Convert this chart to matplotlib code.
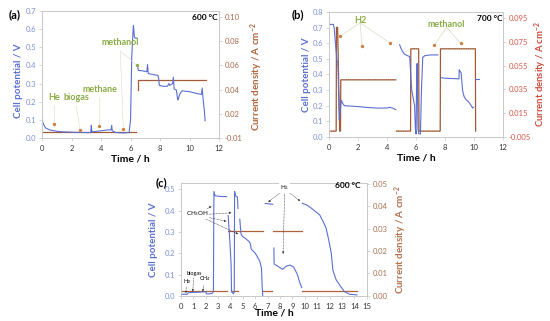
import numpy as np
import matplotlib
matplotlib.use("Agg")
from matplotlib import pyplot as plt

# ---- panel (a): 600 C ----
a_time_1 = [0, 0.1, 0.25, 0.5, 0.8, 1.2, 2.0, 3.0, 3.3, 3.34, 3.38, 3.5, 4.0, 4.5, 4.68, 4.72, 4.76, 5.0, 5.5, 5.9, 6.0, 6.08, 6.19, 6.22, 6.25, 6.3, 6.45]
a_volt_1 = [0.1, 0.075, 0.055, 0.045, 0.04, 0.035, 0.032, 0.03, 0.03, 0.07, 0.035, 0.035, 0.04, 0.045, 0.045, 0.068, 0.04, 0.03, 0.028, 0.03, 0.1, 0.45, 0.62, 0.6, 0.56, 0.55, 0.55]
a_time_2 = [6.47, 6.53, 6.8, 7.1, 7.15, 7.2, 7.5, 7.85, 7.9, 7.95, 8.2, 8.5, 8.6, 8.65, 8.85, 8.9, 8.95, 9.1, 9.2, 9.25, 9.35, 9.5, 10.0, 10.5, 10.8, 10.85, 10.9, 11.0, 11.05]
a_volt_2 = [0.40, 0.372, 0.37, 0.365, 0.405, 0.355, 0.35, 0.345, 0.33, 0.29, 0.285, 0.285, 0.3, 0.29, 0.3, 0.335, 0.27, 0.265, 0.21, 0.22, 0.245, 0.26, 0.255, 0.245, 0.24, 0.275, 0.23, 0.15, 0.095]
a_cur_time_1 = [0, 6.4]
a_cur_1 = [0, 0]
a_cur_time_2 = [6.53, 6.53, 11.1]
a_cur_2 = [0.035, 0.043, 0.043]
a_gas = ["He", "biogas", "methane", "methanol"]
a_gas_t = [0.83, 2.58, 3.89, 5.51]
a_gas_v = [0.08, 0.046, 0.064, 0.05]
a_right_ticks = ["-0.01", "0.02", "0.04", "0.06", "0.08", "0.10"]

# ---- panel (b): 700 C ----
b_time_1 = [0, 0.1, 0.3, 0.36, 0.45, 0.55, 0.62, 0.66, 0.72, 0.76, 0.85, 0.95, 1.07, 1.5, 2.0, 2.5, 3.0, 3.5, 4.0, 4.2, 4.4, 4.6]
b_volt_1 = [0.72, 0.72, 0.72, 0.70, 0.60, 0.49, 0.48, 0.3, 0.11, 0.15, 0.236, 0.215, 0.2, 0.198, 0.195, 0.19, 0.187, 0.185, 0.186, 0.19, 0.185, 0.175]
b_time_2 = [4.87, 4.95, 5.05, 5.2, 5.4, 5.56, 5.63, 5.7, 5.8, 5.9, 5.95, 6.0, 6.03, 6.07, 6.13, 6.2, 6.3, 6.37, 6.46, 6.6, 7.0, 7.5]
b_volt_2 = [0.59, 0.57, 0.55, 0.53, 0.52, 0.515, 0.4, 0.3, 0.25, 0.2, 0.06, 0.02, 0.3, 0.47, 0.05, 0.02, 0.02, 0.3, 0.51, 0.52, 0.525, 0.525]
b_time_3 = [7.68, 8.0, 8.5, 8.95, 8.97, 9.0, 9.1, 9.2, 9.3, 9.43, 9.55, 9.66, 9.8, 9.9, 9.95]
b_volt_3 = [0.38, 0.376, 0.374, 0.372, 0.43, 0.425, 0.41, 0.3, 0.26, 0.24, 0.23, 0.22, 0.2, 0.185, 0.19]
b_time_4 = [10.05, 10.3]
b_volt_4 = [0.37, 0.37]
b_cur_time_1 = [0, 0.5, 0.52, 0.6, 0.74, 0.8, 0.82, 4.6]
b_cur_1 = [0, 0, 0.087, 0.087, 0, 0, 0.043, 0.043]
b_cur_time_2 = [4.64, 5.62, 5.64, 6.18, 6.2, 7.66, 7.68, 10.08, 10.1]
b_cur_2 = [0, 0, 0.069, 0.069, 0, 0, 0.069, 0.069, 0]
b_h2_t = [0.78, 2.28, 4.23]
b_h2_v = [0.645, 0.583, 0.60]
b_meoh_t = [7.24, 9.08]
b_meoh_v = [0.587, 0.598]
b_right_ticks = ["-0.005", "0.015", "0.035", "0.055", "0.075", "0.095"]

# ---- panel (c): 600 C ----
c_time_1 = [0, 0.5, 0.6, 1.0, 1.5, 2.0, 2.05, 2.3, 2.5, 2.62, 2.66, 2.75, 3.0, 3.4, 3.68]
c_volt_1 = [0.008, 0.008, 0.015, 0.017, 0.018, 0.02, 0.01, 0.01, 0.012, 0.02, 0.49, 0.47, 0.468, 0.466, 0.466]
c_time_2 = [3.81, 3.85, 3.9, 3.95, 4.0, 4.05, 4.08, 4.25, 4.3, 4.33, 4.4, 4.55, 4.58, 4.6]
c_volt_2 = [0.377, 0.34, 0.3, 0.25, 0.2, 0.14, 0.02, 0.01, 0.02, 0.49, 0.47, 0.465, 0.44, 0.41]
c_time_3 = [4.75, 4.8, 4.85, 4.95, 5.2, 5.5, 5.6, 5.67, 6.0, 6.35, 6.5, 6.55, 6.6]
c_volt_3 = [0.36, 0.32, 0.29, 0.28, 0.27, 0.255, 0.245, 0.22, 0.2, 0.165, 0.13, 0.05, 0.0]
c_time_4 = [6.8, 7.4]
c_volt_4 = [0.434, 0.43]
c_time_5 = [7.5, 7.52, 7.8, 8.2, 8.5, 8.8, 9.1, 9.4, 9.6, 9.75]
c_volt_5 = [0.225, 0.15, 0.14, 0.125, 0.14, 0.145, 0.135, 0.1, 0.06, 0.04]
c_time_6 = [9.8, 10.2, 10.65, 11.2, 11.46, 11.7, 11.86, 12.0, 12.13, 12.26, 12.53, 12.94, 13.2, 13.6, 14.2]
c_volt_6 = [0.435, 0.425, 0.406, 0.38, 0.35, 0.32, 0.28, 0.24, 0.2, 0.12, 0.075, 0.04, 0.02, 0.008, 0.005]
c_cur_low = [(0.05, 3.75), (4.05, 4.6), (6.65, 7.35), (9.8, 14.2)]
c_cur_high = [(3.8, 6.6), (7.45, 9.8)]
c_low_level = 0.0022
c_high_level = 0.0288

BLUE = "#5b6fd2"
BLUE_TXT = "#7f90d8"
BROWN = "#b0603a"
GREEN = "#8aab45"
LABEL_SIZE = 7


def style_axes(ax, ax2, xmax, xstep, ymax, ystep, right_color):
    ax.set_xlim(0, xmax)
    ax.set_xticks(np.arange(0, xmax + 0.01, xstep))
    ax.set_ylim(0, ymax)
    ax.set_yticks(np.arange(0, ymax + 1e-6, ystep))
    ax.yaxis.set_major_formatter(plt.FormatStrFormatter("%.1f"))
    for sp in list(ax.spines.values()) + list(ax2.spines.values()):
        sp.set_color("#c8c8c8")
        sp.set_linewidth(0.6)
    ax.tick_params(axis="x", labelsize=5.5, length=2, width=0.5, color="#c8c8c8", labelcolor="#333333", pad=3)
    ax.tick_params(axis="y", labelsize=5.5, length=2, width=0.5, color="#c8c8c8", labelcolor=BLUE_TXT, pad=2)
    ax2.tick_params(axis="y", labelsize=5.5, length=2, width=0.5, color="#c8c8c8", labelcolor=right_color, pad=2)


def current(ax2, t, c):
    ax2.plot(t, c, color=BROWN, lw=0.9)
    ax2.plot(t, c, color="#3a3a2a", lw=0.4, ls=(0, (1, 3)))


def main():
    plt.rcParams["font.family"] = ["Lato", "DejaVu Sans"]
    plt.rcParams["mathtext.default"] = "regular"
    fig = plt.figure(figsize=(5.5, 3.21), dpi=100)

    # ---------------- (a) ----------------
    ax = fig.add_axes([0.0764, 0.570, 0.322, 0.396])
    ax2 = ax.twinx()
    ax.set_zorder(ax2.get_zorder() + 1)
    ax.patch.set_visible(False)
    current(ax2, a_cur_time_1, a_cur_1)
    current(ax2, a_cur_time_2, a_cur_2)
    ax.plot(a_time_1, a_volt_1, color=BLUE, lw=0.8)
    ax.plot(a_time_2, a_volt_2, color=BLUE, lw=0.8)
    style_axes(ax, ax2, 12, 2, 0.7, 0.1, "#a86a4a")
    ax2.set_ylim(-0.005, 0.1)
    ax2.set_yticks(np.arange(-0.005, 0.1, 0.02))
    ax2.set_yticklabels(a_right_ticks)
    ax.scatter(a_gas_t, a_gas_v, s=2, color="#d08040", zorder=5)
    ax.scatter([6.42], [0.40], s=2, color=GREEN, zorder=5)
    lab_pos = [(0.85, 0.2), (2.3, 0.2), (3.9, 0.245), (5.3, 0.5)]
    for name, (lx, ly), px, py in zip(a_gas, lab_pos, a_gas_t, a_gas_v):
        ax.plot([lx, px], [ly - 0.02, py], color="#e0d8c8", lw=0.4)
        ax.text(lx, ly, name, color=GREEN, fontsize=6.5, ha="center", va="bottom", fontweight="bold")
    ax.plot([5.3, 6.42], [0.48, 0.40], color="#e0d8c8", lw=0.4)
    ax.text(0.99, 0.95, "600 °C", transform=ax.transAxes, ha="right", va="center", fontsize=6, fontweight="bold")
    ax.set_xlabel("Time / h", fontsize=7.5, fontweight="bold")
    ax.xaxis.set_label_coords(0.5, -0.13)
    ax.set_ylabel("Cell potential / V", fontsize=LABEL_SIZE, color=BLUE, fontweight="bold")
    ax.yaxis.set_label_coords(-0.11, 0.45)
    ax2.set_ylabel("Current density / A cm$^{-2}$", fontsize=LABEL_SIZE, color="#b0643c", fontweight="bold")
    ax2.yaxis.set_label_coords(1.165, 0.48)
    fig.text(15 / 550, 1 - 15 / 321, "(a)", fontsize=8, fontweight="bold", ha="center", va="center")

    # ---------------- (b) ----------------
    ax = fig.add_axes([0.598, 0.573, 0.317, 0.390])
    ax2 = ax.twinx()
    ax.set_zorder(ax2.get_zorder() + 1)
    ax.patch.set_visible(False)
    current(ax2, b_cur_time_1, b_cur_1)
    current(ax2, b_cur_time_2, b_cur_2)
    for t, v in [(b_time_1, b_volt_1), (b_time_2, b_volt_2), (b_time_3, b_volt_3), (b_time_4, b_volt_4)]:
        ax.plot(t, v, color=BLUE, lw=0.8)
    style_axes(ax, ax2, 12, 2, 0.8, 0.1, "#d9574a")
    ax2.set_ylim(-0.005, 0.1)
    ax2.set_yticks(np.arange(-0.005, 0.1, 0.02))
    ax2.set_yticklabels(b_right_ticks)
    ax.scatter(b_h2_t + b_meoh_t, b_h2_v + b_meoh_v, s=2, color="#d08040", zorder=5)
    for px, py in zip(b_h2_t, b_h2_v):
        ax.plot([2.15, px], [0.73, py], color="#d8dcc0", lw=0.5)
    for px, py in zip(b_meoh_t, b_meoh_v):
        ax.plot([8.1, px], [0.70, py], color="#d8dcc0", lw=0.5)
    ax.text(2.15, 0.745, "H2", color=GREEN, fontsize=6.5, ha="center", va="center", fontweight="bold")
    ax.text(8.1, 0.72, "methanol", color=GREEN, fontsize=6.5, ha="center", va="center", fontweight="bold")
    ax.text(0.995, 0.95, "700 °C", transform=ax.transAxes, ha="right", va="center", fontsize=6, fontweight="bold")
    ax.set_xlabel("Time / h", fontsize=7.5, fontweight="bold")
    ax.xaxis.set_label_coords(0.5, -0.13)
    ax.set_ylabel("Cell potential / V", fontsize=LABEL_SIZE, color=BLUE, fontweight="bold")
    ax.yaxis.set_label_coords(-0.105, 0.5)
    ax2.set_ylabel("Current density / A cm$^{-2}$", fontsize=6.8, color="#cc4a3c", fontweight="bold")
    ax2.yaxis.set_label_coords(1.17, 0.5)
    fig.text(298 / 550, 1 - 15 / 321, "(b)", fontsize=8, fontweight="bold", ha="center", va="center")

    # ---------------- (c) ----------------
    ax = fig.add_axes([0.329, 0.078, 0.338, 0.352])
    ax2 = ax.twinx()
    ax.set_zorder(ax2.get_zorder() + 1)
    ax.patch.set_visible(False)
    for t0, t1 in c_cur_low:
        ax2.plot([t0, t1], [c_low_level, c_low_level], color=BROWN, lw=0.9)
    for t0, t1 in c_cur_high:
        ax2.plot([t0, t1], [c_high_level, c_high_level], color=BROWN, lw=0.9)
    for t, v in [(c_time_1, c_volt_1), (c_time_2, c_volt_2), (c_time_3, c_volt_3),
                 (c_time_4, c_volt_4), (c_time_5, c_volt_5), (c_time_6, c_volt_6)]:
        ax.plot(t, v, color=BLUE, lw=0.8)
    style_axes(ax, ax2, 15, 1, 0.53, 0.1, "#a87050")
    ax.set_yticks(np.arange(0, 0.51, 0.1))
    ax2.set_ylim(0, 0.0503)
    ax2.set_yticks(np.arange(0, 0.051, 0.01))
    ax2.yaxis.set_major_formatter(plt.FormatStrFormatter("%.2f"))
    arrow = dict(arrowstyle="-|>", lw=0.4, ls=":", color="#222222", mutation_scale=3, shrinkA=0, shrinkB=0)
    ax.annotate("He", xy=(0.4, 0.012), xytext=(0.45, 0.06), fontsize=4, ha="center", arrowprops=arrow)
    ax.annotate("biogas", xy=(0.95, 0.02), xytext=(1.05, 0.1), fontsize=4, ha="center", arrowprops=arrow)
    ax.annotate("CH$_4$", xy=(1.75, 0.02), xytext=(1.95, 0.075), fontsize=4, ha="center", arrowprops=arrow)
    for px, py in [(2.47, 0.421), (4.08, 0.39), (3.68, 0.35), (4.62, 0.29)]:
        ax.annotate("", xy=(px, py), xytext=(1.3, 0.38), arrowprops=arrow)
    ax.text(1.3, 0.385, "CH$_3$OH", fontsize=4.5, ha="center", va="center",
            bbox=dict(boxstyle="square,pad=0.1", fc="white", ec="none"))
    for px, py in [(7.03, 0.44), (8.24, 0.197), (9.63, 0.445)]:
        ax.annotate("", xy=(px, py), xytext=(8.37, 0.5), arrowprops=arrow)
    ax.text(8.37, 0.508, "H$_2$", fontsize=4.5, ha="center", va="center",
            bbox=dict(boxstyle="square,pad=0.1", fc="white", ec="none"))
    ax.text(0.965, 0.975, "600 °C", transform=ax.transAxes, ha="right", va="center", fontsize=6, fontweight="bold")
    ax.set_xlabel("Time / h", fontsize=7.5, fontweight="bold")
    ax.xaxis.set_label_coords(0.5, -0.11)
    ax.set_ylabel("Cell potential / V", fontsize=LABEL_SIZE, color=BLUE, fontweight="bold")
    ax.yaxis.set_label_coords(-0.125, 0.5)
    ax2.set_ylabel("Current density / A cm$^{-2}$", fontsize=LABEL_SIZE, color="#b5704d", fontweight="bold")
    ax2.yaxis.set_label_coords(1.14, 0.5)
    fig.text(161 / 550, 1 - 183 / 321, "(c)", fontsize=8, fontweight="bold", ha="center", va="center")

    fig.savefig("out.png", dpi=100)


if __name__ == "__main__":
    main()
